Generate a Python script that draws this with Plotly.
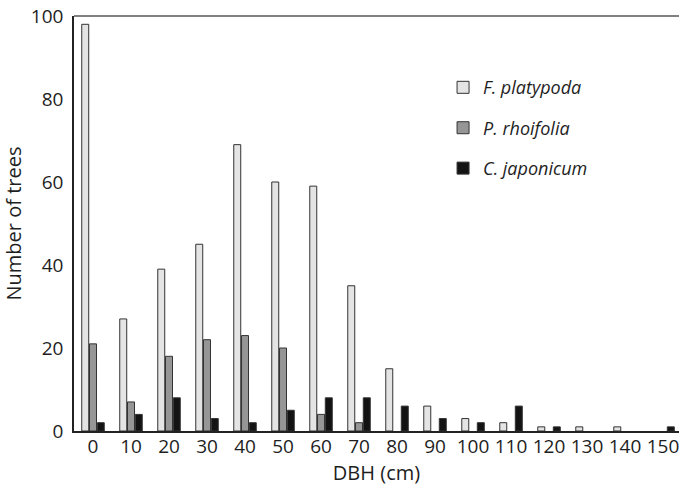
import plotly.graph_objects as go

categories = ["0", "10", "20", "30", "40", "50", "60", "70", "80", "90", "100", "110", "120", "130", "140", "150"]
f_platypoda = [98, 27, 39, 45, 69, 60, 59, 35, 15, 6, 3, 2, 1, 1, 1, 0]
p_rhoifolia = [21, 7, 18, 22, 23, 20, 4, 2, 0, 0, 0, 0, 0, 0, 0, 0]
c_japonicum = [2, 4, 8, 3, 2, 5, 8, 8, 6, 3, 2, 6, 1, 0, 0, 1]
y_ticks = [0, 20, 40, 60, 80, 100]

FONT = "Open Sans"
TXT = "#1e1e1e"

fig = go.Figure()
series = [
    ("F. platypoda", f_platypoda, "#e4e4e4"),
    ("P. rhoifolia", p_rhoifolia, "#969696"),
    ("C. japonicum", c_japonicum, "#131313"),
]
for i, (name, vals, col) in enumerate(series):
    # zero counts draw no bar (no outline) as in the reference
    yv = [v if v != 0 else None for v in vals]
    fig.add_trace(go.Bar(
        x=categories, y=yv, name=name, legendgroup=f"g{i}",
        marker=dict(color=col, line=dict(color="#333333", width=1)),
    ))

fig.update_layout(
    width=679, height=488,
    margin=dict(l=74, r=0, t=16, b=57),
    paper_bgcolor="white", plot_bgcolor="white",
    barmode="group", bargap=0.387, bargroupgap=0.1,
    font=dict(family=FONT, size=19, color=TXT),
    showlegend=True,
    legend=dict(
        x=0.61, y=0.872, xanchor="left", yanchor="top",
        font=dict(family=FONT, size=18, color=TXT, style="italic"),
        tracegroupgap=14, itemwidth=30, bgcolor="rgba(0,0,0,0)",
    ),
    xaxis=dict(
        type="category", range=[-0.5, 15.42],
        showline=True, linecolor="#222222", linewidth=1.5,
        showgrid=False, ticks="", ticklabelstandoff=-3,
        tickfont=dict(family=FONT, size=19, color=TXT),
        title=dict(text="DBH (cm)", font=dict(family=FONT, size=20, color=TXT), standoff=6),
        automargin=False,
    ),
    yaxis=dict(
        range=[0, 100], tickvals=y_ticks,
        showline=True, linecolor="#222222", linewidth=1.5,
        showgrid=False, zeroline=False, ticks="outside", ticklen=5, tickcolor="rgba(0,0,0,0)",
        tickfont=dict(family=FONT, size=19, color=TXT),
        title=dict(text="Number of trees", font=dict(family=FONT, size=20, color=TXT), standoff=12),
        automargin=False,
    ),
)
fig.add_shape(type="line", xref="paper", yref="paper", x0=0, x1=1, y0=1, y1=1,
              line=dict(color="#808080", width=2))

fig.write_html("out.html", config={"displayModeBar": False},
               post_script="document.body.style.margin='0';")
